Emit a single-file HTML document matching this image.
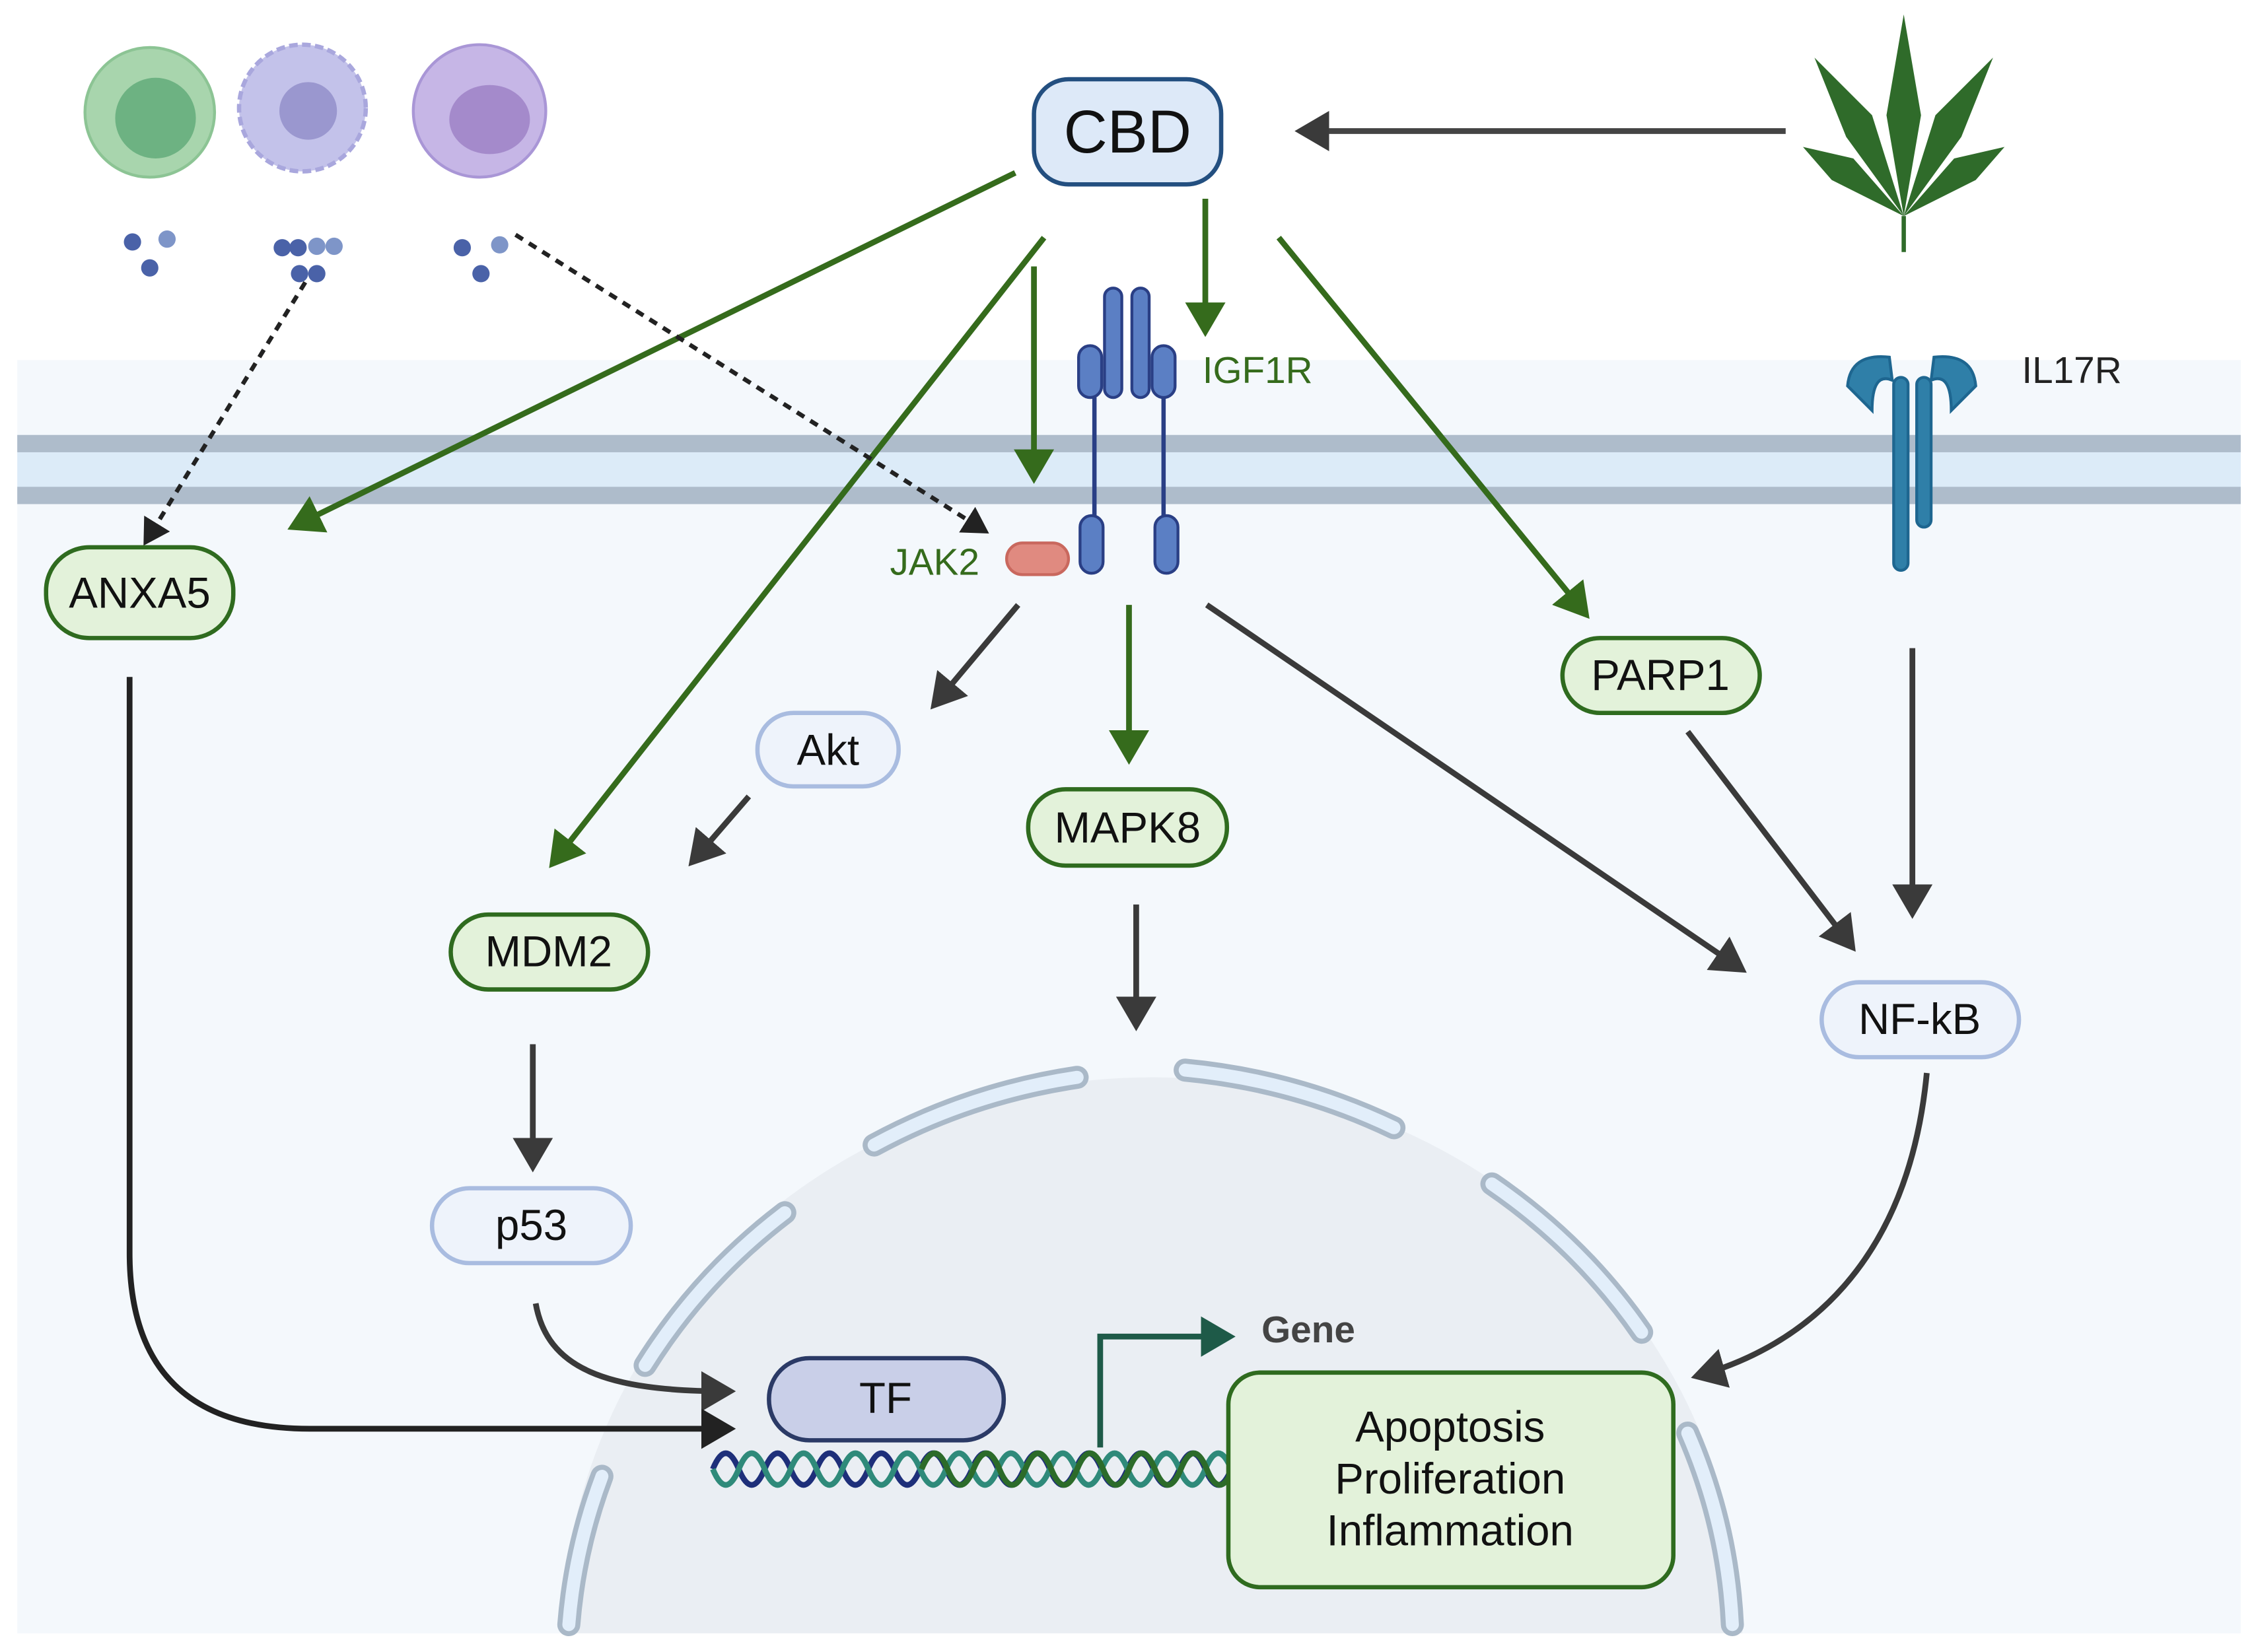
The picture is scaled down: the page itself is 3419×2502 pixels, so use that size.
<!DOCTYPE html>
<html><head><meta charset="utf-8"><style>
html,body{margin:0;padding:0;background:#fff;width:3419px;height:2502px;overflow:hidden}
svg{display:block}
text{font-family:"Liberation Sans",sans-serif}
</style></head><body>
<svg width="3419" height="2502" viewBox="0 0 1568 1147" preserveAspectRatio="none" xmlns="http://www.w3.org/2000/svg">
<defs>
<marker id="ag" markerWidth="7" markerHeight="7" refX="4.5" refY="3.5" orient="auto" markerUnits="strokeWidth"><path d="M0,0 L6,3.5 L0,7 Z" fill="#356b1c"/></marker>
<marker id="ad" markerWidth="7" markerHeight="7" refX="4.5" refY="3.5" orient="auto" markerUnits="strokeWidth"><path d="M0,0 L6,3.5 L0,7 Z" fill="#3a3a3a"/></marker>
<marker id="ak" markerWidth="7" markerHeight="7" refX="4.5" refY="3.5" orient="auto" markerUnits="strokeWidth"><path d="M0,0 L6,3.5 L0,7 Z" fill="#222"/></marker>
<marker id="as" markerWidth="7" markerHeight="7" refX="4.5" refY="3.5" orient="auto" markerUnits="strokeWidth"><path d="M0,0 L6,3.5 L0,7 Z" fill="#1e5a48"/></marker>
<clipPath id="nc"><rect x="0" y="0" width="1568" height="1134"/></clipPath>
</defs>
<rect width="1568" height="1147" fill="#fff"/>
<rect x="12" y="250" width="1544" height="884" fill="#f4f8fc"/>
<rect x="12" y="302" width="1544" height="48" fill="#dcebf8"/>
<rect x="12" y="302" width="1544" height="12" fill="#aebccb"/>
<rect x="12" y="338" width="1544" height="12" fill="#aebccb"/>
<ellipse cx="800" cy="1140" rx="410" ry="392" fill="#eaeef3" clip-path="url(#nc)"/>
<g fill="none" stroke="#aab9c8" stroke-width="16" stroke-linecap="round">
<path d="M395,1128 A415,395 0 0 1 418,1025"/>
<path d="M448,948 A415,395 0 0 1 545,842"/>
<path d="M607,795 A415,395 0 0 1 748,748"/>
<path d="M823,743 A415,395 0 0 1 968,783"/>
<path d="M1036,822 A415,395 0 0 1 1140,925"/>
<path d="M1172,995 A415,395 0 0 1 1203,1128"/>
</g>
<g fill="none" stroke="#e2eefa" stroke-width="9" stroke-linecap="round">
<path d="M395,1128 A415,395 0 0 1 418,1025"/>
<path d="M448,948 A415,395 0 0 1 545,842"/>
<path d="M607,795 A415,395 0 0 1 748,748"/>
<path d="M823,743 A415,395 0 0 1 968,783"/>
<path d="M1036,822 A415,395 0 0 1 1140,925"/>
<path d="M1172,995 A415,395 0 0 1 1203,1128"/>
</g>
<circle cx="104" cy="78" r="45" fill="#a8d5ad" stroke="#8cc494" stroke-width="2"/>
<circle cx="108" cy="82" r="28" fill="#6db282"/>
<circle cx="210" cy="75" r="44" fill="#c3c2ea" stroke="#a9a7dd" stroke-width="3" stroke-dasharray="6 3"/>
<circle cx="214" cy="77" r="20" fill="#9a97cf"/>
<circle cx="333" cy="77" r="46" fill="#c6b6e6" stroke="#a996d6" stroke-width="2"/>
<ellipse cx="340" cy="83" rx="28" ry="24" fill="#a48acb"/>
<g fill="#4a62a8"><circle cx="92" cy="168" r="6"/><circle cx="104" cy="186" r="6"/><circle cx="116" cy="166" r="6" fill="#7e95c8"/>
<circle cx="196" cy="172" r="6"/><circle cx="207" cy="172" r="6"/><circle cx="220" cy="171" r="6" fill="#7e95c8"/><circle cx="232" cy="171" r="6" fill="#7e95c8"/><circle cx="208" cy="190" r="6"/><circle cx="220" cy="190" r="6"/>
<circle cx="321" cy="172" r="6"/><circle cx="347" cy="170" r="6" fill="#7e95c8"/><circle cx="334" cy="190" r="6"/></g>
<g fill="#2f6b2a" transform="translate(1322,150)">
<path d="M0,0 L-12,-70 L0,-140 L12,-70 Z"/>
<path d="M0,0 L-40,-55 L-62,-110 L-22,-70 Z"/>
<path d="M0,0 L40,-55 L62,-110 L22,-70 Z"/>
<path d="M0,0 L-50,-25 L-70,-48 L-35,-40 Z"/>
<path d="M0,0 L50,-25 L70,-48 L35,-40 Z"/>
<rect x="-1.5" y="0" width="3" height="25"/>
</g>
<line x1="1240" y1="91" x2="905" y2="91" stroke="#444" stroke-width="4" marker-end="url(#ad)"/>
<g stroke="#356b1c" stroke-width="4" fill="none" marker-end="url(#ag)">
<line x1="705" y1="120" x2="205" y2="365"/>
<line x1="725" y1="165" x2="385" y2="598"/>
<line x1="718" y1="185" x2="718" y2="330"/>
<line x1="837" y1="138" x2="837" y2="228"/>
<line x1="888" y1="165" x2="1100" y2="425"/>
<line x1="784" y1="420" x2="784" y2="525"/>
</g>
<g stroke="#222" stroke-width="3" stroke-dasharray="6 5" fill="none" marker-end="url(#ak)">
<line x1="212" y1="196" x2="102" y2="375"/>
<line x1="358" y1="163" x2="683" y2="368"/>
</g>
<g stroke="#3a3a3a" stroke-width="4" fill="none" marker-end="url(#ad)">
<line x1="707" y1="420" x2="650" y2="488"/>
<line x1="520" y1="553" x2="482" y2="597"/>
<line x1="789" y1="628" x2="789" y2="710"/>
<line x1="370" y1="725" x2="370" y2="808"/>
<line x1="838" y1="420" x2="1208" y2="672"/>
<line x1="1172" y1="508" x2="1285" y2="656"/>
<line x1="1328" y1="450" x2="1328" y2="632"/>
<path d="M1338,745 C1325,880 1250,935 1180,955"/>
<path d="M372,905 C380,950 420,966 505,966"/>
</g>
<path d="M90,470 L90,870 Q90,992 215,992 L505,992" stroke="#222" stroke-width="4" fill="none" marker-end="url(#ak)"/>
<g fill="#5b7fc4" stroke="#2a3f85" stroke-width="2">
<rect x="767" y="200" width="12" height="76" rx="6"/><rect x="786" y="200" width="12" height="76" rx="6"/>
<rect x="749" y="240" width="16" height="36" rx="8"/><rect x="800" y="240" width="16" height="36" rx="8"/>
<rect x="750" y="358" width="16" height="40" rx="8"/><rect x="802" y="358" width="16" height="40" rx="8"/>
</g>
<g stroke="#2a3f85" stroke-width="3"><line x1="760" y1="276" x2="760" y2="358"/><line x1="808" y1="276" x2="808" y2="358"/></g>
<rect x="699" y="377" width="43" height="22" rx="11" fill="#e08a80" stroke="#c9685e" stroke-width="2"/>
<text x="835" y="266" font-size="26" fill="#356b1c">IGF1R</text>
<text x="618" y="399" font-size="26" fill="#356b1c">JAK2</text>
<g fill="#2f7fa8" stroke="#1e6690" stroke-width="2">
<path d="M1283,268 Q1285,245 1312,248 L1314,264 Q1300,258 1300,285 Z"/>
<path d="M1372,268 Q1370,245 1343,248 L1341,264 Q1355,258 1355,285 Z"/>
<rect x="1315" y="262" width="10" height="134" rx="5"/><rect x="1331" y="262" width="10" height="104" rx="5"/>
</g>
<text x="1404" y="266" font-size="26" fill="#222">IL17R</text>
<g fill="none" stroke-width="4">
<path d="M495,1020 q9,-22 18,0 t18,0 t18,0 t18,0 t18,0 t18,0 t18,0 t18,0 t18,0 t18,0 t18,0 t18,0 t18,0 t18,0 t18,0 t18,0 t18,0 t18,0 t18,0 t18,0" stroke="#1e2f7a"/>
<path d="M495,1020 q9,22 18,0 t18,0 t18,0 t18,0 t18,0 t18,0 t18,0 t18,0 t18,0 t18,0 t18,0 t18,0 t18,0 t18,0 t18,0 t18,0 t18,0 t18,0 t18,0 t18,0" stroke="#2f8a7a"/>
<path d="M640,1020 q9,-22 18,0 t18,0 t18,0 t18,0 t18,0 t18,0 t18,0 t18,0 t18,0 t18,0 t18,0 t18,0" stroke="#2c6b2a"/>
</g>
<path d="M764,1005 L764,928 L852,928" stroke="#1e5a48" stroke-width="4" fill="none" marker-end="url(#as)"/>
<text x="876" y="932" font-size="26" font-weight="bold" fill="#444">Gene</text>
<g font-size="30" text-anchor="middle" fill="#111">
<rect x="718" y="55" width="130" height="73" rx="24" fill="#dde9f8" stroke="#234f80" stroke-width="3"/>
<text x="783" y="106" font-size="42">CBD</text>
<rect x="32" y="380" width="130" height="63" rx="30" fill="#e3f2da" stroke="#2f6b1f" stroke-width="3"/>
<text x="97" y="422">ANXA5</text>
<rect x="526" y="495" width="98" height="51" rx="25" fill="#eef3fb" stroke="#a9bce0" stroke-width="3"/>
<text x="575" y="531">Akt</text>
<rect x="714" y="548" width="138" height="53" rx="26" fill="#e3f2da" stroke="#2f6b1f" stroke-width="3"/>
<text x="783" y="585">MAPK8</text>
<rect x="313" y="635" width="137" height="52" rx="26" fill="#e3f2da" stroke="#2f6b1f" stroke-width="3"/>
<text x="381" y="671">MDM2</text>
<rect x="300" y="825" width="138" height="52" rx="26" fill="#eef3fb" stroke="#a9bce0" stroke-width="3"/>
<text x="369" y="861">p53</text>
<rect x="1085" y="443" width="137" height="52" rx="26" fill="#e3f2da" stroke="#2f6b1f" stroke-width="3"/>
<text x="1153" y="479">PARP1</text>
<rect x="1265" y="682" width="137" height="52" rx="26" fill="#eef3fb" stroke="#a9bce0" stroke-width="3"/>
<text x="1333" y="718">NF-kB</text>
<rect x="534" y="943" width="163" height="57" rx="28" fill="#c9cfe8" stroke="#2b3a66" stroke-width="3"/>
<text x="615" y="981">TF</text>
<rect x="853" y="953" width="309" height="149" rx="22" fill="#e3f2da" stroke="#2f6b1f" stroke-width="3"/>
<text x="1007" y="1001">Apoptosis</text>
<text x="1007" y="1037">Proliferation</text>
<text x="1007" y="1073">Inflammation</text>
</g>
</svg>
</body></html>
